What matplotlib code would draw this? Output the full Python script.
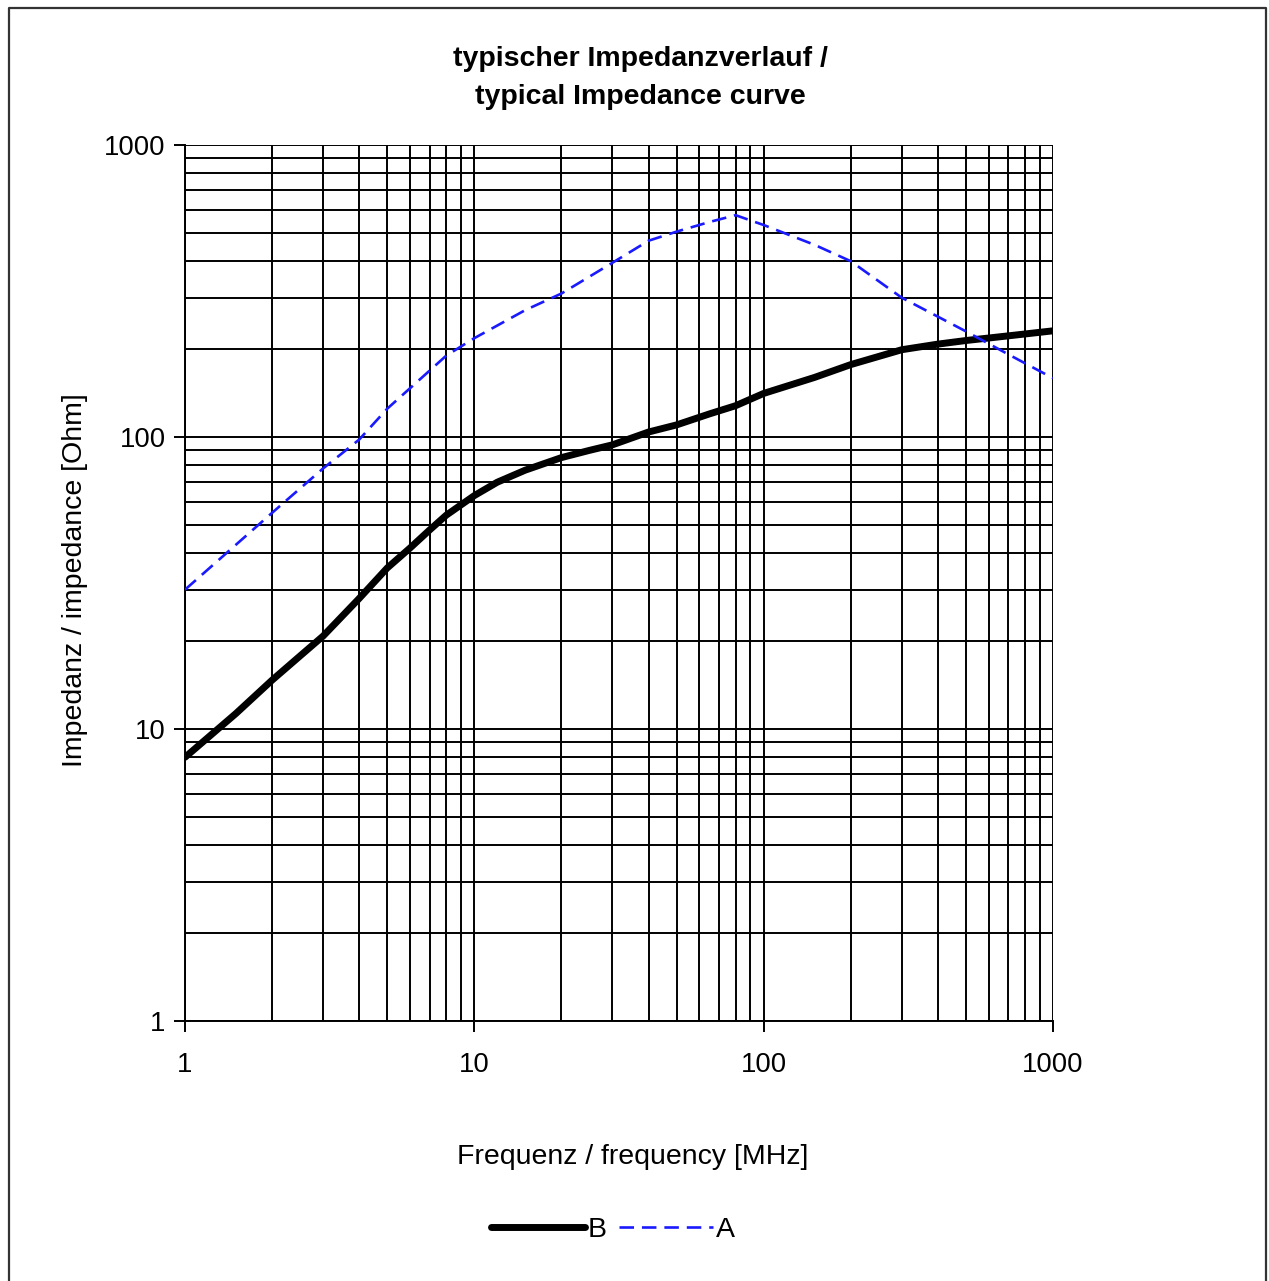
import matplotlib
matplotlib.use('Agg')
import matplotlib.pyplot as plt
from matplotlib.lines import Line2D
from matplotlib.ticker import LogLocator, NullFormatter, FixedLocator, FixedFormatter

plt.rcParams['font.family'] = ['Liberation Sans', 'DejaVu Sans']

# frequency [MHz] and impedance [Ohm]
freq_b = [1, 1.5, 2, 2.5, 3, 4, 5, 6, 7, 8, 10, 12, 15, 20, 25, 30, 40, 50, 65, 80, 100,
          150, 200, 300, 400, 500, 700, 1000]
imp_b = [8.0, 11.3, 14.7, 17.8, 20.8, 28, 35.6, 41.7, 48, 54, 63, 70, 77, 85, 90, 94, 104, 110,
         120, 128, 141, 160, 177, 199, 208, 214, 222, 231]

freq_a = [1, 2, 3, 4, 5, 6, 8, 10, 15, 20, 30, 40, 50, 65, 80, 100, 150, 200, 300, 500, 700, 1000]
imp_a = [30, 55, 78, 98, 125, 147, 190, 218, 272, 310, 395, 470, 505, 545, 575, 532, 455, 400, 300,
         230, 192, 159]

x_ticks = [1, 10, 100, 1000]
y_ticks = [1, 10, 100, 1000]

W, H = 1269, 1281
fig = plt.figure(figsize=(W / 100, H / 100), dpi=100)
ax = fig.add_axes([185 / W, 1 - 1021 / H, (1053 - 185) / W, (1021 - 145) / H])

ax.plot(freq_b, imp_b, color='black', lw=5, solid_capstyle='round', solid_joinstyle='round',
        label='B', zorder=3)
ax.plot(freq_a, imp_a, color='#1a1aff', lw=1.9, dashes=(5.5, 3), label='A', zorder=3)

ax.set_xscale('log')
ax.set_yscale('log')
ax.set_xlim(1, 1000)
ax.set_ylim(1, 1000)

ax.xaxis.set_major_locator(FixedLocator(x_ticks))
ax.xaxis.set_major_formatter(FixedFormatter([str(v) for v in x_ticks]))
ax.yaxis.set_major_locator(FixedLocator(y_ticks))
ax.yaxis.set_major_formatter(FixedFormatter([str(v) for v in y_ticks]))
for axis in (ax.xaxis, ax.yaxis):
    axis.set_minor_locator(LogLocator(base=10, subs=range(2, 10)))
    axis.set_minor_formatter(NullFormatter())

ax.grid(True, which='both', color='black', lw=1.4)
ax.tick_params(which='major', length=8, width=1.4, labelsize=19.8, color='black')
ax.tick_params(axis='x', which='major', pad=14)
ax.tick_params(axis='y', which='major', pad=6)
ax.tick_params(which='minor', length=0)
ax.spines['top'].set_visible(False)
ax.spines['right'].set_visible(False)
for s in ('left', 'bottom'):
    ax.spines[s].set_linewidth(1.4)

fig.text(640 / W, 1 - 78 / H, 'typischer Impedanzverlauf /\ntypical Impedance curve',
         ha='center', va='center', fontsize=20.5, fontweight='bold', linespacing=1.55)
fig.text(633 / W, 1 - 1157 / H, 'Frequenz / frequency [MHz]', ha='center', va='center',
         fontsize=20.5)
fig.text(75 / W, 1 - 580 / H, 'Impedanz / impedance [Ohm]', ha='center', va='center',
         fontsize=20.5, rotation=90)

handles, labels = ax.get_legend_handles_labels()
fig.legend(handles, labels, loc='center', bbox_to_anchor=(613 / W, 1 - 1230 / H), ncol=2,
           frameon=False, fontsize=20.5, handlelength=3.3, handletextpad=0.1, columnspacing=0.45)

# outer frame (bottom edge lies off the picture)
fig.add_artist(Line2D([9 / W, 9 / W, 1266 / W, 1266 / W], [0, 1 - 8 / H, 1 - 8 / H, 0],
                      transform=fig.transFigure, color='#333333', lw=1.6))

fig.savefig('out.png', dpi=100)
